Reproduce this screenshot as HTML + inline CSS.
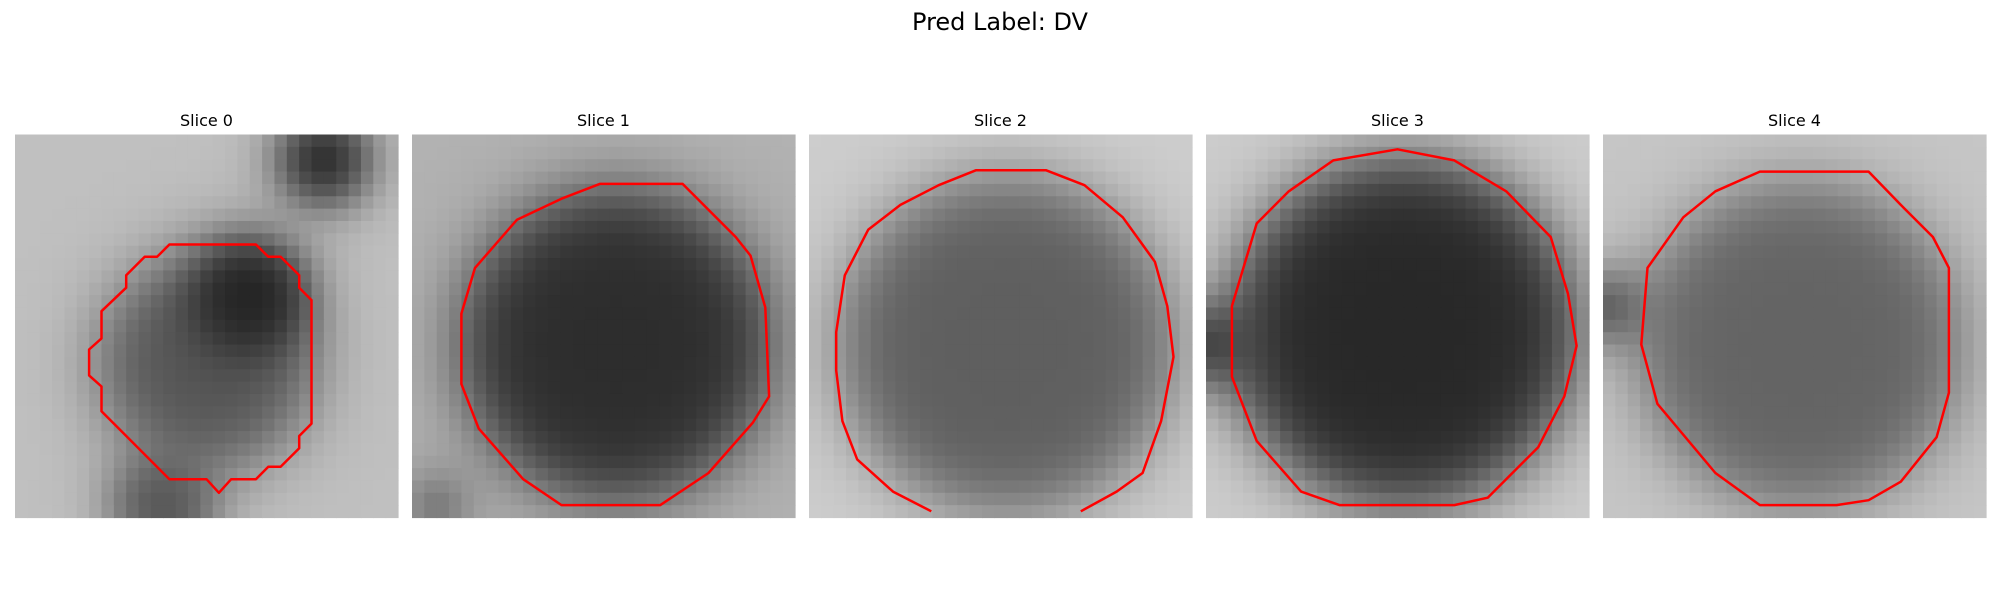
<!DOCTYPE html>
<html><head><meta charset="utf-8"><style>
body{margin:0;background:#fff;width:2000px;height:600px;overflow:hidden;font-family:"Liberation Sans","DejaVu Sans",sans-serif}
</style></head><body>
<svg id="fig" width="2000" height="600" xmlns="http://www.w3.org/2000/svg">
<text x="1000" y="30" text-anchor="middle" font-size="24" font-family="DejaVu Sans, Liberation Sans, sans-serif">Pred Label: DV</text>
</svg>
<script>
// Panel data
const sliceTitles = ["Slice 0","Slice 1","Slice 2","Slice 3","Slice 4"];
const centerX = [15.5,16.5,16,16,16];
const centerY = [18.5,17,17,16,17];
const radius  = [8.5,12.5,13.5,14,13];
const innerGray = [85,45,95,40,100];
const outerGray = [192,178,205,205,198];
const closedContour = [true,true,false,true,true];
// extra dark blobs: panel index, x, y, radius, gray
const blobPanel = [0,0,0,3,4,1];
const blobX = [25,12,19,0.5,0.5,2];
const blobY = [2,30,13,17,14,30];
const blobR = [3.5,4,4.5,3,2.5,2];
const blobGray = [40,85,35,60,85,110];
const contour0 = [[12.5,8.9],[19.5,8.9],[20.5,9.9],[21.5,9.9],[23,11.4],[23,12.4],[24,13.4],[24,23.4],[23,24.4],[23,25.4],[21.5,26.9],[20.5,26.9],[19.5,27.9],[17.5,27.9],[16.5,29],[15.5,27.9],[12.5,27.9],[7,22.4],[7,20.4],[6,19.5],[6,17.4],[7,16.5],[7,14.3],[9,12.4],[9,11.4],[10.5,9.9],[11.5,9.9]];
const contour1 = [[15.2,4],[21.9,4],[26.2,8.3],[27.4,9.8],[28.6,14],[28.9,21.2],[27.6,23.3],[24,27.4],[20.1,30],[12.1,30],[9,27.9],[5.4,23.8],[4,20.2],[4,14.5],[5.1,10.8],[8.5,6.9],[12.1,5.2]];
const contour2 = [[9.9,30.5],[6.8,28.9],[3.9,26.3],[2.7,23.2],[2.2,19.1],[2.2,16],[2.9,11.4],[4.8,7.7],[7.4,5.7],[10.5,4.1],[13.5,2.9],[19.2,2.9],[22.3,4.1],[25.4,6.7],[28,10.3],[29,13.9],[29.5,18],[28.5,23.2],[27,27.4],[24.9,28.9],[22,30.5]];
const contour3 = [[10.3,2.1],[15.5,1.2],[20.1,2.1],[24.3,4.6],[27.9,8.3],[29.3,12.9],[30,17.1],[29,21.2],[26.9,25.3],[22.8,29.4],[20.1,30],[10.8,30],[7.7,28.9],[4.1,24.8],[2.1,19.6],[2.1,13.9],[4.1,7.2],[6.7,4.6]];
const contour4 = [[12.7,3],[21.5,3],[24.1,5.7],[26.7,8.3],[28,10.8],[28,20.9],[27,24.5],[24.1,28.1],[21.5,29.6],[18.9,30],[12.7,30],[9.1,27.4],[4.4,21.8],[3.1,17],[3.6,10.8],[6.5,6.7],[9.1,4.6]];
const contours=[contour0,contour1,contour2,contour3,contour4];

const NS="http://www.w3.org/2000/svg";
const svg=document.getElementById('fig');
const N=31, panelX0=15, panelStep=397, panelY0=134.5, panelSize=383;
const cell=panelSize/N;
function px(i,g){return panelX0+i*panelStep+g*cell;}
function py(g){return panelY0+g*cell;}
for(let p=0;p<5;p++){
  const g=document.createElementNS(NS,'g');
  
  
  svg.appendChild(g);
  const t=document.createElementNS(NS,'text');
  t.setAttribute('x',px(p,N/2));t.setAttribute('y',126);
  t.setAttribute('text-anchor','middle');t.setAttribute('font-size','16');
  t.setAttribute('font-family','DejaVu Sans, Liberation Sans, sans-serif');
  t.textContent=sliceTitles[p];
  
  
  g.appendChild(t);
  for(let r=0;r<N;r++)for(let c=0;c<N;c++){
    const d=Math.hypot(c+0.5-centerX[p],r+0.5-centerY[p]);
    const s=1/(1+Math.exp(-(radius[p]-d)/1.6));
    let v=outerGray[p]+(innerGray[p]-outerGray[p])*s;
    for(let b=0;b<blobPanel.length;b++){
      if(blobPanel[b]!==p)continue;
      const db=Math.hypot(c+0.5-blobX[b],r+0.5-blobY[b]);
      const sb=1/(1+Math.exp(-(blobR[b]-db)/1.2));
      const vb=v+(blobGray[b]-v)*sb;
      v=Math.min(v,vb);
    }
    v=Math.round(v);
    const rc=document.createElementNS(NS,'rect');
    rc.setAttribute('x',px(p,c).toFixed(2));rc.setAttribute('y',py(r).toFixed(2));
    rc.setAttribute('width',(cell+0.6).toFixed(2));rc.setAttribute('height',(cell+0.6).toFixed(2));
    rc.setAttribute('fill','rgb('+v+','+v+','+v+')');
    
    
    g.appendChild(rc);
  }
  const pts=contours[p].map(q=>px(p,q[0]).toFixed(1)+','+py(q[1]).toFixed(1)).join(' ');
  const pl=document.createElementNS(NS,closedContour[p]?'polygon':'polyline');
  pl.setAttribute('points',pts);pl.setAttribute('fill','none');
  pl.setAttribute('stroke','#ff0000');pl.setAttribute('stroke-width','2.5');
  pl.setAttribute('stroke-linejoin','round');
  
  
  g.appendChild(pl);
}
</script>
</body></html>
